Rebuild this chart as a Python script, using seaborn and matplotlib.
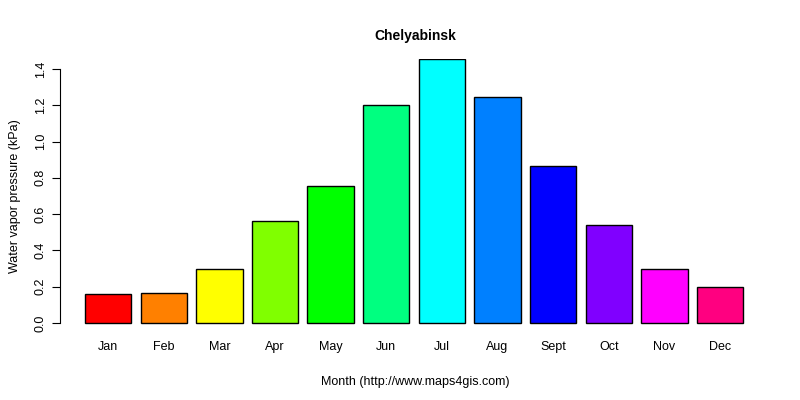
import matplotlib
matplotlib.use('Agg')
import matplotlib.pyplot as plt
import seaborn as sb
import pandas as pd

plt.rcParams['font.family'] = 'Liberation Sans'

months = ['Jan', 'Feb', 'Mar', 'Apr', 'May', 'Jun', 'Jul', 'Aug', 'Sept', 'Oct', 'Nov', 'Dec']
pressure = [0.16, 0.165, 0.30, 0.56, 0.755, 1.20, 1.455, 1.245, 0.865, 0.54, 0.30, 0.20]
colors = ['#FF0000', '#FF8000', '#FFFF00', '#80FF00', '#00FF00', '#00FF80',
          '#00FFFF', '#0080FF', '#0000FF', '#8000FF', '#FF00FF', '#FF0080']

df = pd.DataFrame({'month': months, 'kpa': pressure})

fig = plt.figure(figsize=(8, 4), dpi=100)
ax = fig.add_axes([0.075, 0.1675, 0.8875, 0.685])
sb.barplot(data=df, x='month', y='kpa', hue='month', palette=colors, legend=False,
           width=1 / 1.2, edgecolor='black', linewidth=1, saturation=1, ax=ax)
ax.set_xlim(-0.866, 11.9)
ax.set_ylim(-0.055, 1.455)
ax.set_yticks([0, 0.2, 0.4, 0.6, 0.8, 1.0, 1.2, 1.4])
ax.set_yticklabels(['0.0', '0.2', '0.4', '0.6', '0.8', '1.0', '1.2', '1.4'], rotation=90, va='center', fontsize=9)
ax.tick_params(axis='x', length=0, labelsize=9, pad=6)
ax.tick_params(axis='y', length=6)
for s in ['top', 'right', 'bottom']:
    ax.spines[s].set_visible(False)
ax.spines['left'].set_bounds(0, 1.4)
ax.set_xlabel('Month (http://www.maps4gis.com)', fontsize=9, labelpad=16)
ax.set_ylabel('Water vapor pressure (kPa)', fontsize=9, labelpad=10)
ax.set_title('Chelyabinsk', fontsize=10, fontweight='bold', pad=14)
fig.savefig('out.png')
